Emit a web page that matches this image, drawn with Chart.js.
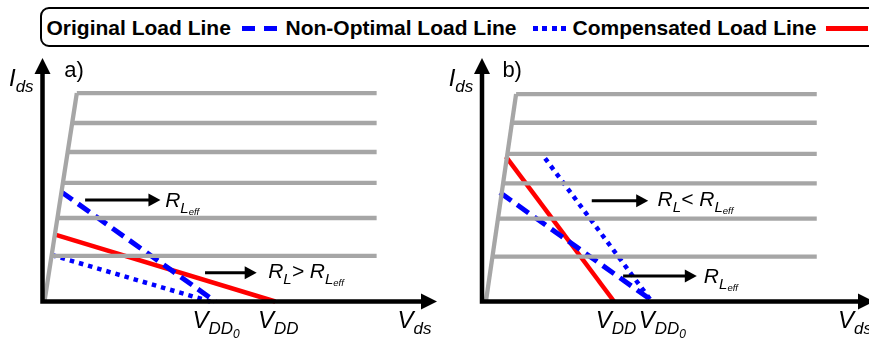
<!DOCTYPE html>
<html>
<head>
<meta charset="utf-8">
<script src="https://cdn.jsdelivr.net/npm/chart.js@4.4.1/dist/chart.umd.min.js"></script>
<style>
  html, body { margin: 0; padding: 0; background: #fff; }
  body { width: 869px; height: 340px; position: relative; overflow: hidden; font-family: "Liberation Sans", Arial, sans-serif; }
  #legend { position: absolute; left: 40px; top: 7px; width: 900px; height: 36px; border: 2.5px solid #000; border-radius: 9px; }
  #legend span { position: absolute; top: 0; line-height: 37px; font-weight: bold; font-size: 21px; white-space: nowrap; color: #000; }
  #legend i { position: absolute; top: 17px; height: 4.5px; }
  .panel { position: absolute; top: 50px; }
</style>
</head>
<body>
<div id="legend">
  <span style="left:4.5px">Original Load Line</span>
  <i style="left:199.5px;width:35px;background:repeating-linear-gradient(90deg,#0000ff 0 13px,transparent 13px 22px)"></i>
  <span style="left:243.5px">Non-Optimal Load Line</span>
  <i style="left:491px;width:33px;background:repeating-linear-gradient(90deg,#0000ff 0 5px,transparent 5px 9.5px)"></i>
  <span style="left:530.5px">Compensated Load Line</span>
  <i style="left:783.5px;width:42px;background:#ff0000"></i>
</div>
<div class="panel" style="left:0px"><canvas id="chartA" width="440" height="290"></canvas></div>
<div class="panel" style="left:440px"><canvas id="chartB" width="440" height="290"></canvas></div>

<script>
// ---- panel a) data (x: Vds, y: Ids, arbitrary units 0..10) ----
const ivLevelsA = [8.56, 7.33, 6.14, 4.87, 3.43, 1.87];
const kneeXA = [0.87, 0.75, 0.64, 0.52, 0.38, 0.23];
const kneeBaseA = 0.05;
const satEndA = 8.47;
const originalA = [[0.47, 4.51], [4.38, 0]];
const nonOptimalA = [[0.23, 1.91], [4.25, 0]];
const compensatedA = [[0.30, 2.76], [5.90, 0]];

// ---- panel b) data ----
const ivLevelsB = [8.52, 7.34, 6.06, 4.85, 3.40, 1.84];
const kneeXB = [0.87, 0.76, 0.65, 0.54, 0.41, 0.27];
const kneeBaseB = 0.10;
const satEndB = 8.54;
const originalB = [[0.46, 4.47], [4.37, 0]];
const nonOptimalB = [[1.61, 5.88], [4.33, 0]];
const compensatedB = [[0.61, 5.95], [3.37, 0]];

// annotation arrows: [xStart, y, xEnd]
const arrowsA = [[1.08, 4.17, 2.99], [4.12, 1.18, 5.43]];
const arrowsB = [[2.80, 4.14, 4.24], [3.60, 1.05, 5.48]];

const BLUE = '#0000ff';
const RED = '#ff0000';
const GRAY = '#a6a6a6';
const FONT = '"Liberation Sans", Arial, sans-serif';

const pts = arr => arr.map(p => ({ x: p[0], y: p[1] }));

function ivDatasets(levels, kneeX, base, end) {
  const sets = [{
    data: [{ x: base, y: 0 }, { x: kneeX[0], y: levels[0] }],
    borderColor: GRAY, borderWidth: 4.3
  }];
  levels.forEach((lv, i) => {
    sets.push({ data: [{ x: kneeX[i], y: lv }, { x: end, y: lv }], borderColor: GRAY, borderWidth: 4.3 });
  });
  return sets;
}

function drawParts(ctx, x, y, parts, sizes, offs, italic) {
  let cx = x;
  parts.forEach(([t, lvl]) => {
    ctx.font = (italic ? 'italic ' : '') + sizes[lvl] + 'px ' + FONT;
    ctx.fillText(t, cx, y + offs[lvl]);
    cx += ctx.measureText(t).width;
  });
}

const annot = {
  id: 'annot',
  afterDatasetsDraw(chart, args, o) {
    const { ctx, scales: { x, y } } = chart;
    const px = v => x.getPixelForValue(v);
    const py = v => y.getPixelForValue(v);
    ctx.save();
    ctx.fillStyle = '#000';
    ctx.strokeStyle = '#000';

    // axes with arrowheads
    const x0 = px(0), y0 = py(0), xm = px(10), ym = py(10);
    ctx.lineWidth = 4.5;
    ctx.lineCap = 'butt';
    ctx.beginPath();
    ctx.moveTo(x0 - 2.25, y0); ctx.lineTo(xm - 14, y0);
    ctx.moveTo(x0, y0 + 2.25); ctx.lineTo(x0, ym + 14);
    ctx.stroke();
    ctx.beginPath();
    ctx.moveTo(xm, y0); ctx.lineTo(xm - 16, y0 - 8); ctx.lineTo(xm - 16, y0 + 8); ctx.closePath();
    ctx.moveTo(x0, ym); ctx.lineTo(x0 - 8, ym + 16); ctx.lineTo(x0 + 8, ym + 16); ctx.closePath();
    ctx.fill();

    // annotation arrows
    ctx.lineWidth = 3;
    o.arrows.forEach(([xs, yv, xe]) => {
      const a = px(xs), b = px(xe), c = py(yv);
      ctx.beginPath(); ctx.moveTo(a, c); ctx.lineTo(b - 10, c); ctx.stroke();
      ctx.beginPath(); ctx.moveTo(b, c); ctx.lineTo(b - 12, c - 6.5); ctx.lineTo(b - 12, c + 6.5); ctx.closePath(); ctx.fill();
    });

    // texts
    ctx.textBaseline = 'alphabetic';
    o.texts.forEach(t => {
      const s = t.kind === 'r' ? [21, 15, 9.5] : [24, 17, 12];
      const off = t.kind === 'r' ? [0, 6, 8] : [0, 6, 10];
      drawParts(ctx, px(t.x), py(t.y), t.parts, s, off, true);
    });
    ctx.font = '22px ' + FONT;
    ctx.fillText(o.tag, px(o.tagAt[0]), py(o.tagAt[1]));
    ctx.restore();
  }
};

function makePanel(id, cfg) {
  const line = (d, color, w, dash) => ({
    data: pts(d), borderColor: color, borderWidth: w, borderDash: dash || [], borderCapStyle: 'butt'
  });
  return new Chart(document.getElementById(id), {
    type: 'scatter',
    data: {
      datasets: [
        ...ivDatasets(cfg.levels, cfg.kneeX, cfg.base, cfg.end),
        line(cfg.nonOptimal, BLUE, 4.5, [4.5, 5]),
        line(cfg.original, BLUE, 5, [14, 7]),
        line(cfg.compensated, RED, 4.5)
      ].map(d => Object.assign({ showLine: true, pointRadius: 0, clip: false, tension: 0 }, d))
    },
    options: {
      responsive: false,
      animation: false,
      devicePixelRatio: 1,
      layout: { padding: cfg.padding },
      scales: {
        x: { type: 'linear', min: 0, max: 10, display: false },
        y: { type: 'linear', min: 0, max: 10, display: false }
      },
      plugins: {
        legend: { display: false },
        tooltip: { enabled: false },
        annot: { arrows: cfg.arrows, texts: cfg.texts, tag: cfg.tag, tagAt: cfg.tagAt }
      }
    },
    plugins: [annot]
  });
}

makePanel('chartA', {
  levels: ivLevelsA, kneeX: kneeXA, base: kneeBaseA, end: satEndA,
  original: originalA, nonOptimal: nonOptimalA, compensated: compensatedA,
  arrows: arrowsA,
  padding: { left: 42.5, right: 3, top: 8, bottom: 38.5 },
  tag: 'a)', tagAt: [0.55, 9.2],
  texts: [
    { x: -0.85, y: 8.85, kind: 'v', parts: [['I', 0], ['ds', 1]] },
    { x: 9.0, y: -1.1, kind: 'v', parts: [['V', 0], ['ds', 1]] },
    { x: 3.8, y: -1.1, kind: 'v', parts: [['V', 0], ['DD', 1], ['0', 2]] },
    { x: 5.46, y: -1.1, kind: 'v', parts: [['V', 0], ['DD', 1]] },
    { x: 3.11, y: 3.90, kind: 'r', parts: [['R', 0], ['L', 1], ['eff', 2]] },
    { x: 5.72, y: 0.97, kind: 'r', parts: [['R', 0], ['L', 1], ['> ', 0], ['R', 0], ['L', 1], ['eff', 2]] }
  ]
});

makePanel('chartB', {
  levels: ivLevelsB, kneeX: kneeXB, base: kneeBaseB, end: satEndB,
  original: originalB, nonOptimal: nonOptimalB, compensated: compensatedB,
  arrows: arrowsB,
  padding: { left: 42, right: 6, top: 8, bottom: 38.5 },
  tag: 'b)', tagAt: [0.52, 9.2],
  texts: [
    { x: -0.85, y: 8.85, kind: 'v', parts: [['I', 0], ['ds', 1]] },
    { x: 9.08, y: -1.1, kind: 'v', parts: [['V', 0], ['ds', 1]] },
    { x: 2.9, y: -1.1, kind: 'v', parts: [['V', 0], ['DD', 1]] },
    { x: 4.0, y: -1.1, kind: 'v', parts: [['V', 0], ['DD', 1], ['0', 2]] },
    { x: 4.48, y: 3.92, kind: 'r', parts: [['R', 0], ['L', 1], ['< ', 0], ['R', 0], ['L', 1], ['eff', 2]] },
    { x: 5.66, y: 0.75, kind: 'r', parts: [['R', 0], ['L', 1], ['eff', 2]] }
  ]
});
</script>
</body>
</html>
